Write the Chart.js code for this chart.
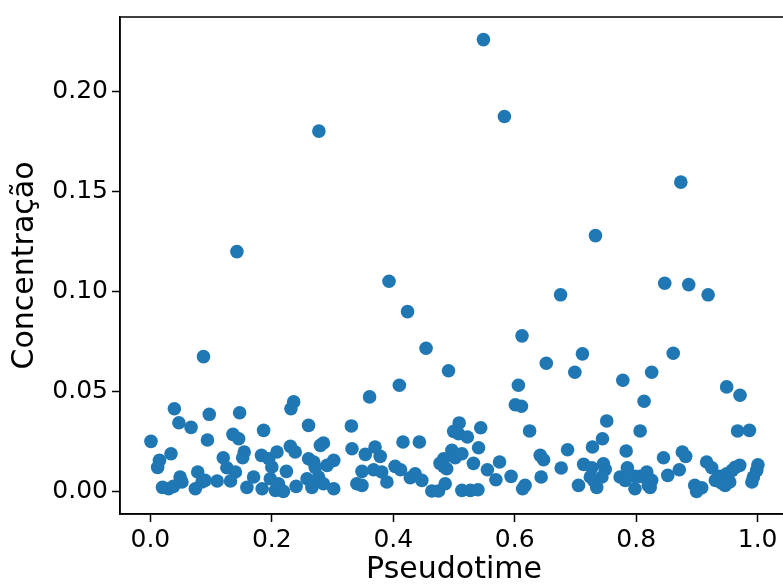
<!DOCTYPE html>
<html>
<head>
<meta charset="utf-8">
<script src="https://cdn.jsdelivr.net/npm/chart.js@4/dist/chart.umd.min.js"></script>
<style>
html,body{margin:0;padding:0;overflow:hidden;background:#fff;}
#wrap{width:800px;height:587px;}
</style>
</head>
<body>
<div id="wrap"><canvas id="c" width="800" height="587"></canvas></div>
<script>
const pseudotime = [
0.001,0.0395,0.047,0.067,0.097,0.094,0.136,0.034,0.015,0.012,0.12,0.126,0.078,0.049,0.052,0.02,0.03,0.038,0.074,0.085,0.09,0.11,0.132,
0.236,0.2315,0.147,0.2605,0.1865,0.1455,0.285,0.28,0.2305,0.2385,0.2085,0.1545,0.152,0.183,0.195,0.2,0.2605,0.269,0.302,0.291,0.14,0.17,0.224,0.1975,0.159,0.184,0.206,0.219,0.211,0.24,0.258,0.266,0.277,0.285,0.302,0.2715,
0.361,0.331,0.416,0.443,0.332,0.37,0.354,0.3785,0.403,0.412,0.3675,0.381,0.3485,0.436,0.428,0.447,0.3895,0.34,0.3485,0.4635,0.4745,0.477,0.483,0.4855,0.41,
0.606,0.601,0.611,0.5085,0.544,0.4995,0.5075,0.522,0.6245,0.5405,0.4965,0.513,0.502,0.483,0.488,0.532,0.575,0.555,0.569,0.594,0.642,0.6475,0.6435,0.617,0.613,0.513,0.527,0.5395,
0.7515,0.8065,0.7445,0.728,0.7835,0.687,0.6765,0.7135,0.727,0.746,0.749,0.7855,0.7435,0.7245,0.73,0.735,0.7735,0.782,0.705,0.798,0.8065,0.8175,0.798,0.82,0.813,
0.949,0.971,0.967,0.9865,0.845,0.876,0.8815,0.916,0.9245,0.9705,1.0005,0.9985,0.871,0.852,0.993,0.9905,0.8255,0.823,0.9305,0.938,0.949,0.958,0.963,0.9465,0.954,0.9405,0.8965,0.8995,0.908,
0.2775,0.1425,0.393,0.4235,0.454,0.0875,0.491,0.5485,0.583,0.8735,0.733,0.847,0.8865,0.9185,0.6755,0.612,0.7115,0.861,0.652,0.699,0.778,0.8255
];
const concentration = [
0.025,0.0413,0.0343,0.032,0.0385,0.0257,0.0285,0.0188,0.0155,0.012,0.0168,0.0118,0.0097,0.0072,0.0047,0.002,0.0013,0.0025,0.0013,0.0047,0.0055,0.0052,0.0052,
0.0447,0.0413,0.0393,0.033,0.0305,0.0263,0.0242,0.023,0.0225,0.0197,0.0197,0.0197,0.0168,0.018,0.0163,0.0122,0.0163,0.0147,0.0155,0.013,0.0097,0.0072,0.01,0.0063,0.002,0.0013,0.0005,0.0,0.0038,0.0025,0.0063,0.002,0.0072,0.0038,0.0013,0.012,
0.0472,0.0327,0.0247,0.0247,0.0213,0.0222,0.0185,0.0175,0.0125,0.0108,0.0108,0.0097,0.01,0.0088,0.0068,0.0055,0.0047,0.0038,0.003,0.0002,0.0002,0.014,0.0163,0.0038,0.053,
0.053,0.0433,0.0425,0.0342,0.0318,0.03,0.0288,0.0272,0.0302,0.0218,0.0205,0.0188,0.0168,0.0125,0.0113,0.014,0.0147,0.0108,0.0058,0.0075,0.018,0.0158,0.0072,0.003,0.0013,0.0005,0.0005,0.0008,
0.0352,0.0302,0.0263,0.0222,0.0202,0.0208,0.0117,0.0135,0.0118,0.0138,0.011,0.0118,0.0072,0.0072,0.0055,0.002,0.0072,0.0055,0.003,0.0075,0.0075,0.0097,0.0013,0.003,0.045,
0.0522,0.048,0.0302,0.0305,0.0168,0.0197,0.0175,0.0147,0.0118,0.013,0.0133,0.0105,0.0108,0.008,0.0072,0.0047,0.0055,0.002,0.0055,0.0075,0.0088,0.0105,0.012,0.003,0.0047,0.0042,0.003,0.0,0.0018,
0.18,0.1198,0.105,0.0898,0.0715,0.0673,0.0603,0.2257,0.1873,0.1545,0.1278,0.104,0.1033,0.0982,0.0982,0.0777,0.0687,0.069,0.064,0.0595,0.0555,0.0595
];
const xTicks = [0.0,0.2,0.4,0.6,0.8,1.0];
const yTicks = [0.00,0.05,0.10,0.15,0.20];

const points = pseudotime.map((x,i)=>({x:x, y:concentration[i]}));
const FONT = "'DejaVu Sans', sans-serif";

const framePlugin = {
  id:'frame',
  afterDraw(chart){
    const a = chart.chartArea, ctx = chart.ctx;
    ctx.save();
    ctx.strokeStyle = '#000';
    ctx.lineWidth = 1.5;
    ctx.strokeRect(a.left, a.top, a.right-a.left, a.bottom-a.top);
    ctx.restore();
  }
};

new Chart(document.getElementById('c'), {
  type:'scatter',
  data:{datasets:[{data:points, backgroundColor:'#1f77b4', borderColor:'#1f77b4', borderWidth:0, pointRadius:6.8, pointHoverRadius:6.8}]},
  options:{
    responsive:false, animation:false,
    layout:{padding:{left:0, top:17, right:12, bottom:0}},
    plugins:{legend:{display:false}, tooltip:{enabled:false}},
    scales:{
      x:{
        type:'linear', min:-0.05, max:1.05,
        afterBuildTicks(s){ s.ticks = xTicks.map(v=>({value:v})); },
        afterFit(s){ s.height = 73; s.paddingLeft = 0; s.paddingRight = 0; },
        grid:{display:true, drawOnChartArea:false, drawTicks:true, tickLength:8, tickColor:'#000', tickWidth:1.5},
        border:{display:true, color:'#000', width:1.5},
        ticks:{color:'#000', font:{family:FONT, size:25}, padding:3, maxRotation:0, autoSkip:false,
          callback:(v)=>Number(v).toFixed(1)},
        title:{display:true, text:'Pseudotime', color:'#000', font:{family:FONT, size:30}, padding:{top:0,bottom:-1}}
      },
      y:{
        type:'linear', min:-0.0113, max:0.237,
        afterBuildTicks(s){ s.ticks = yTicks.map(v=>({value:v})); },
        afterFit(s){ s.width = 120; s.paddingTop = 0; s.paddingBottom = 0; },
        grid:{display:true, drawOnChartArea:false, drawTicks:true, tickLength:8, tickColor:'#000', tickWidth:1.5},
        border:{display:true, color:'#000', width:1.5},
        ticks:{color:'#000', font:{family:FONT, size:25}, padding:4, autoSkip:false,
          callback:(v)=>Number(v).toFixed(2)},
        title:{display:true, text:'Concentração', color:'#000', font:{family:FONT, size:30}, padding:{top:7,bottom:0}}
      }
    }
  },
  plugins:[framePlugin]
});
</script>
</body>
</html>
